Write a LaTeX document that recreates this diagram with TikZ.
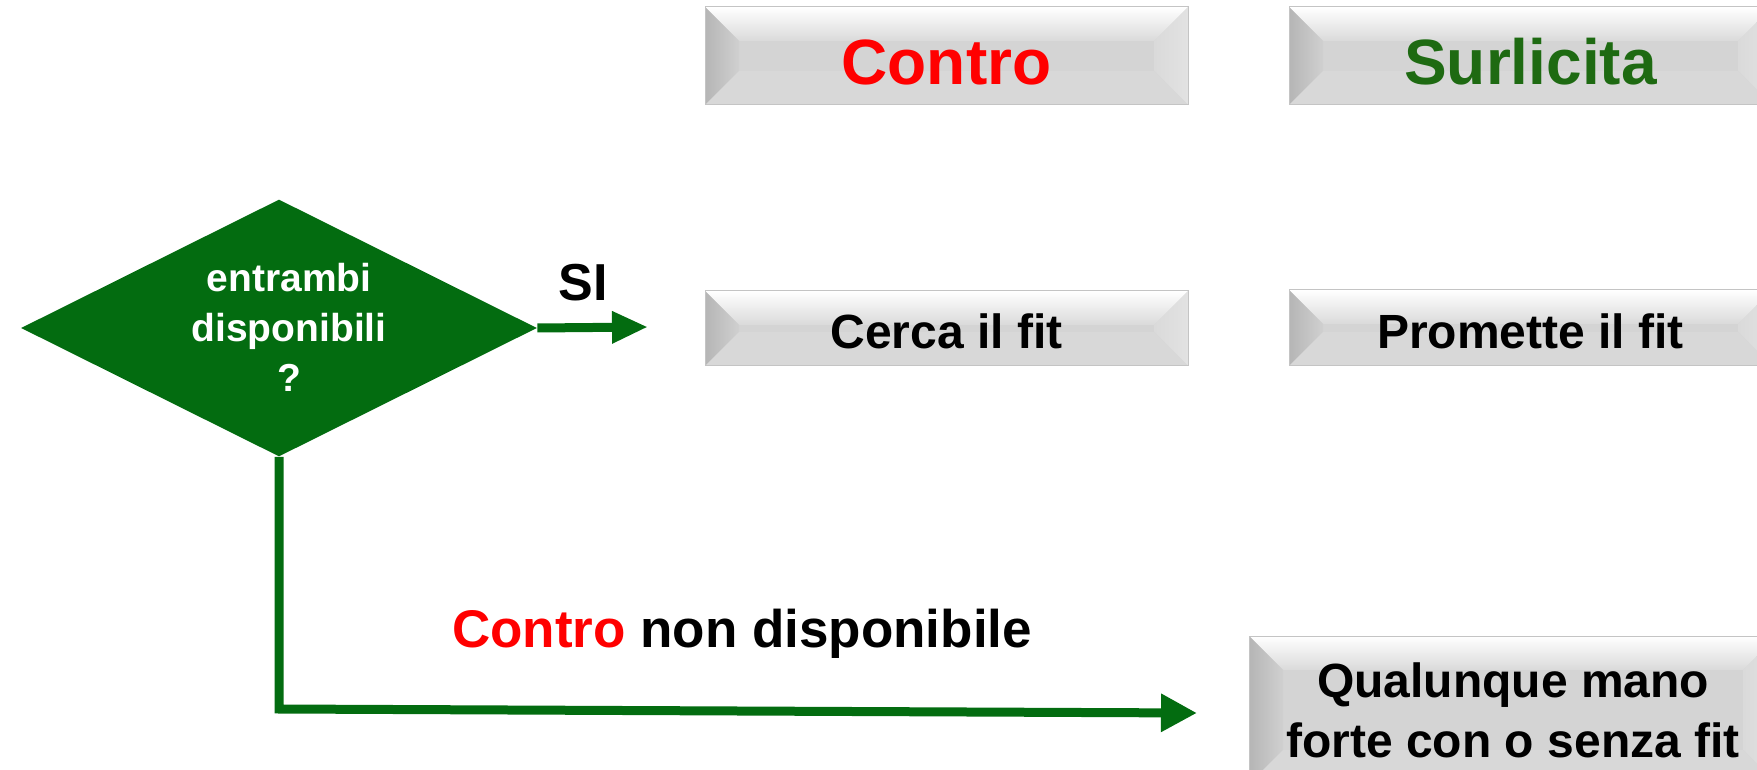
\documentclass[tikz,border=0pt]{standalone}
\usepackage{fontspec}
\setmainfont{Liberation Sans}
\usetikzlibrary{shapes.geometric,arrows.meta,calc}
\definecolor{dgreen}{HTML}{036C10}
\definecolor{tgreen}{HTML}{1E6A12}
\definecolor{bevface}{HTML}{D4D4D4}
\definecolor{bevedge}{HTML}{C4C4C4}
\definecolor{bevleftA}{HTML}{B5B5B5}
\definecolor{bevleftB}{HTML}{D0D0D0}
\definecolor{bevright}{HTML}{E2E2E2}
\definecolor{bevtop}{HTML}{DADADA}
\definecolor{bevbot}{HTML}{D8D8D8}
\tikzset{
  bevelbox/.style={rectangle, draw=bevedge, line width=0.5pt, fill=bevface,
    inner sep=0pt, align=center,
    font=\bfseries\fontsize{24}{30}\selectfont,
    path picture={
      \coordinate (bnw) at (path picture bounding box.north west);
      \coordinate (bne) at (path picture bounding box.north east);
      \coordinate (bsw) at (path picture bounding box.south west);
      \coordinate (bse) at (path picture bounding box.south east);
      \coordinate (inw) at ($(bnw)+(17pt,-17pt)$);
      \coordinate (ine) at ($(bne)+(-17pt,-17pt)$);
      \coordinate (isw) at ($(bsw)+(17pt,17pt)$);
      \coordinate (ise) at ($(bse)+(-17pt,17pt)$);
      \shade[top color=white, bottom color=bevtop] (bnw) -- (bne) -- (ine) -- (inw) -- cycle;
      \shade[left color=bevleftA, right color=bevleftB] (bnw) -- (inw) -- (isw) -- (bsw) -- cycle;
      \shade[left color=bevtop, right color=bevright] (bne) -- (ine) -- (ise) -- (bse) -- cycle;
      \fill[bevbot] (bsw) -- (isw) -- (ise) -- (bse) -- cycle;
    }},
  titlefont/.style={font=\bfseries\fontsize{32}{38}\selectfont, text height=28.5pt, text depth=0pt},
  midtext/.style={text height=20.5pt, text depth=0pt},
  conn/.style={draw=dgreen, line width=4.5pt},
}
\begin{document}
\begin{tikzpicture}[x=0.5pt, y=-0.5pt]
\useasboundingbox (0,0) rectangle (1757,770);
\clip (0,0) rectangle (1757,770);

% header boxes
\node (contro) [bevelbox, titlefont, text=red, minimum width=241.5pt, minimum height=49pt] at (946.5,56) {Contro};
\node (surl) [bevelbox, titlefont, text=tgreen, minimum width=241.5pt, minimum height=49pt] at (1530.5,56) {Surlicita};

% middle boxes
\node (cerca) [bevelbox, midtext, minimum width=241.5pt, minimum height=37.5pt] at (946.5,328.5) {Cerca il fit};
\node (prom) [bevelbox, midtext, minimum width=241.5pt, minimum height=38pt] at (1530.5,328) {Promette il fit};

% bottom box
\node (qual) [bevelbox, minimum width=264pt, minimum height=74pt] at (1513,710) {Qualunque mano\\forte con o senza fit};

% decision diamond
\node (dia) [diamond, fill=dgreen, inner sep=0pt, minimum width=258pt, minimum height=128.5pt] at (279,328) {};
\node (diatext) [text=white, align=center, font=\bfseries\fontsize{19.5}{25}\selectfont] at (289,327) {entrambi\\disponibili\\?};

% connector ends
\coordinate (siend) at (648,327);
\coordinate (corner) at (280,709);
\coordinate (noend) at (1197,713);

\draw[conn, -{Triangle[length=18pt,width=15pt]}] (dia.east) -- (siend);
\draw[conn, -{Triangle[length=18pt,width=18pt]}] (dia.south) -- (dia.south |- corner) -- (noend);

% labels
\node (si) [font=\bfseries\fontsize{26}{30}\selectfont] at (583,283) {SI};
\node (nodisp) [font=\bfseries\fontsize{26.5}{30}\selectfont] at (742,634) {\textcolor{red}{Contro} non disponibile};
\end{tikzpicture}
\end{document}
